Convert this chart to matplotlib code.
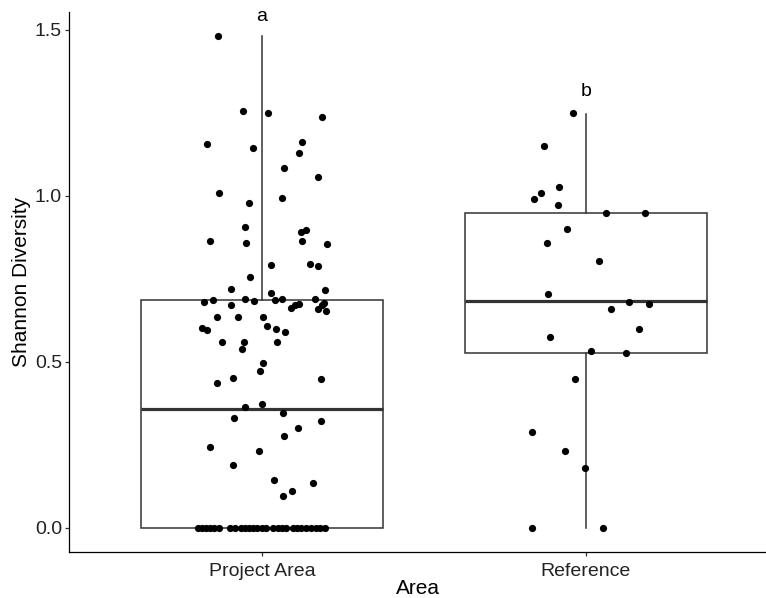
import matplotlib
matplotlib.use("Agg")
import matplotlib.pyplot as plt
import numpy as np

plt.rcParams['font.family'] = ['Liberation Sans', 'DejaVu Sans']

# Categories and group letters
areas = ["Project Area", "Reference"]
letters = ["a", "b"]
letter_y = [1.54, 1.315]

# Box statistics (q1, median, q3, whisker low, whisker high)
q1 = [0.0, 0.527]
medians = [0.358, 0.684]
q3 = [0.688, 0.949]
whis_lo = [0.0, 0.0]
whis_hi = [1.482, 1.247]

# Project Area observations (Shannon diversity) and their horizontal jitter
project_vals = [1.482, 1.256, 1.250, 1.238, 1.157, 1.145, 1.163, 1.130, 1.084, 1.057,
                1.009, 0.994, 0.979, 0.907, 0.864, 0.858, 0.892, 0.898, 0.864, 0.855,
                0.792, 0.795, 0.789, 0.756, 0.720, 0.717, 0.708, 0.681, 0.687, 0.690,
                0.684, 0.687, 0.690, 0.672, 0.663, 0.672, 0.675, 0.690, 0.672, 0.678,
                0.660, 0.654, 0.636, 0.636, 0.636, 0.602, 0.596, 0.608, 0.599, 0.590,
                0.560, 0.560, 0.560, 0.539, 0.497, 0.473, 0.437, 0.452, 0.449, 0.364,
                0.373, 0.346, 0.331, 0.322, 0.301, 0.277, 0.244, 0.232, 0.190, 0.145,
                0.136, 0.110, 0.096,
                0, 0, 0, 0, 0, 0, 0, 0, 0, 0, 0, 0, 0, 0, 0, 0, 0, 0, 0, 0,
                0, 0, 0, 0, 0, 0, 0]
project_jitter = [-0.136, -0.059, 0.019, 0.185, -0.170, -0.028, 0.123, 0.114, 0.068, 0.173,
                  -0.133, 0.062, -0.040, -0.052, -0.160, -0.049, 0.120, 0.136, 0.123, 0.201,
                  0.028, 0.148, 0.173, -0.037, -0.096, 0.194, 0.028, -0.179, -0.151, -0.052,
                  -0.025, 0.040, 0.062, -0.096, 0.090, 0.102, 0.114, 0.164, 0.185, 0.191,
                  0.173, 0.198, -0.139, -0.074, 0.003, -0.185, -0.170, 0.015, 0.043, 0.071,
                  -0.123, -0.056, 0.046, -0.062, 0.003, -0.006, -0.139, -0.090, 0.182, -0.052,
                  0.000, 0.065, -0.086, 0.182, 0.111, 0.068, -0.160, -0.009, -0.090, 0.037,
                  0.157, 0.093, 0.065,
                  -0.198, -0.185, -0.173, -0.160, -0.148, -0.133, -0.099, -0.083, -0.065, -0.052,
                  -0.040, -0.028, -0.015, 0.000, 0.012, 0.034, 0.049, 0.062, 0.074, 0.096,
                  0.108, 0.120, 0.136, 0.151, 0.167, 0.179, 0.194]

# Reference observations and their horizontal jitter
reference_vals = [1.250, 1.151, 1.027, 1.009, 0.991, 0.973, 0.949, 0.949, 0.901, 0.858,
                  0.804, 0.705, 0.681, 0.675, 0.660, 0.599, 0.575, 0.533, 0.527, 0.449,
                  0.289, 0.232, 0.181, 0.0, 0.0]
reference_jitter = [-0.040, -0.130, -0.083, -0.139, -0.160, -0.086, 0.062, 0.182, -0.059, -0.120,
                    0.040, -0.117, 0.133, 0.194, 0.077, 0.164, -0.111, 0.015, 0.123, -0.034,
                    -0.167, -0.065, -0.003, -0.167, 0.052]

fig = plt.figure(figsize=(7.66, 5.98), dpi=100)
ax = fig.add_axes([0.090, 0.077, 0.910, 0.903])

stats = []
for i in range(len(areas)):
    stats.append({"q1": q1[i], "med": medians[i], "q3": q3[i],
                  "whislo": whis_lo[i], "whishi": whis_hi[i], "fliers": []})

box_color = "#333333"
ax.bxp(stats, positions=[1, 2], widths=0.745, showcaps=False, showfliers=False,
       patch_artist=True,
       boxprops=dict(facecolor="white", edgecolor=box_color, linewidth=1.1),
       whiskerprops=dict(color=box_color, linewidth=1.1),
       medianprops=dict(color=box_color, linewidth=2.3))

ax.scatter(1 + np.array(project_jitter), project_vals, s=27, color="black", zorder=3, linewidths=0)
ax.scatter(2 + np.array(reference_jitter), reference_vals, s=27, color="black", zorder=3, linewidths=0)

for i, lab in enumerate(letters):
    ax.text(i + 1, letter_y[i], lab, ha="center", va="center", fontsize=14, color="black")

ax.set_xlim(0.404, 2.556)
ax.set_ylim(-0.0723, 1.554)
ax.set_xticks([1, 2])
ax.set_xticklabels(areas)
ax.set_yticks([0.0, 0.5, 1.0, 1.5])
ax.set_yticklabels(["0.0", "0.5", "1.0", "1.5"])
ax.tick_params(axis="both", labelsize=14, colors="#333333", length=3, width=0.9, pad=2)
ax.tick_params(axis="x", pad=5)
ax.tick_params(axis="both", labelcolor="#222222")
for side in ["top", "right"]:
    ax.spines[side].set_visible(False)
for side in ["left", "bottom"]:
    ax.spines[side].set_color("black")
    ax.spines[side].set_linewidth(0.9)

ax.set_xlabel("Area", fontsize=15, labelpad=-1)
ax.set_ylabel("Shannon Diversity", fontsize=15, labelpad=3)

fig.savefig("out.png", dpi=100)
